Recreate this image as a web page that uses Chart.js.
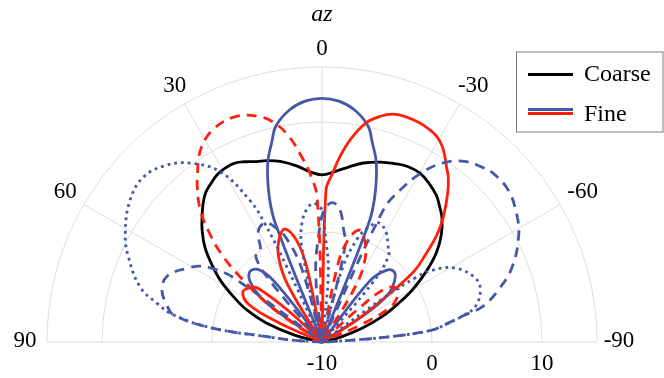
<!DOCTYPE html>
<html>
<head>
<meta charset="utf-8">
<script src="https://cdn.jsdelivr.net/npm/chart.js@4"></script>
<style>
  html, body { margin: 0; padding: 0; background: #fff; }
  #wrap { width: 664px; height: 378px; }
</style>
</head>
<body>
<div id="wrap"><canvas id="polar" width="664" height="378"></canvas></div>
<script>
// radial axis (dB): centre is -10, outer ring is 15
const rMin = -10;
const rMax = 15;
const ringValues = [0, 10, 15];
const radialTicks = [-10, 0, 10];
const angleTicks = [90, 60, 30, 0, -30, -60, -90];

// azimuth in degrees (left positive), value in dB
const coarseAngles = [90, 84, 80, 76, 71, 67, 63, 59, 55, 51, 47, 44, 41, 38, 35, 32, 29, 26, 23, 20,
  17, 13, 8, 4, 0, -4, -9, -13, -18, -22, -26, -30, -34, -38, -41, -44, -48, -52, -56, -60,
  -63, -67, -71, -75, -79, -84, -90];
const coarseValues = [-10, -10, -9.8, -7.5, -4.6, -2.6, -1.0, 0.7, 2.2, 3.7, 4.9, 5.7, 6.5, 7.2, 7.6, 7.95, 8.1, 8.1, 7.8, 7.45,
  7.25, 6.85, 6.15, 5.5, 5.2, 5.5, 6.15, 6.7, 7.2, 7.5, 7.75, 7.75, 7.4, 6.9, 6.3, 5.7, 4.6, 3.2, 1.4, -0.5,
  -2.1, -4.0, -6.1, -8.2, -9.8, -10, -10];

const blueSolidAngles = [90, 58, 55, 51, 46, 41, 38, 35, 23, 21.5, 20, 17, 14, 12, 8, 4, 0, -4, -8, -12,
  -14, -17, -20, -21.5, -23, -35, -38, -42, -46, -50, -54, -57, -59, -90];
const blueSolidValues = [-10, -10, -4, -1.8, -0.85, -1.3, -3.5, -10, -10, 1.5, 4.0, 6.9, 8.8, 10.1, 11.3, 11.95, 12.15, 11.95, 11.3, 10.1,
  8.8, 6.9, 4.0, 1.5, -10, -10, -3, -1.2, -0.85, -1.4, -2.5, -5, -10, -10];

const redSolidAngles = [90, 70, 66, 63, 58, 53, 50, 47, 45, 34, 31, 27, 22, 18, 14, 11.5, 9.5, 1, -1.5, -3.5,
  -5.5, -8, -11.3, -14.5, -17.4, -20.5, -24.1, -26.7, -29.2, -31.5, -33.6, -35.5, -37.4, -40, -44, -47, -50, -52.5, -55, -58,
  -61, -90];
const redSolidValues = [-10, -10, -5.8, -2.6, -1.5, -1.8, -2.4, -6, -10, -10, -4, -1.3, 0.3, 0.8, -0.5, -3, -10, -10, 3.8, 5.3,
  6.9, 8.6, 10.3, 11.2, 11.7, 11.85, 11.8, 11.65, 11.4, 10.9, 10.2, 9.5, 8.9, 7.8, 5.9, 4.3, 2.2, 0.5, -3.3, -6.8,
  -10, -10];

const redDashAngles = [90, 60, 57, 55, 51.5, 49, 46, 42.7, 38.8, 36.3, 34.2, 31.7, 29.3, 26.7, 24.1, 21.2, 18.4, 15.8, 13.2, 9.6,
  6.2, 4.1, 1.9, -0.5, -9.5, -11.5, -14, -18, -22, -27, -31, -34, -45, -47.5, -50, -55, -59, -63, -66, -69,
  -90];
const redDashValues = [-10, -10, -6.9, -3.9, -0.5, 2.0, 4.2, 6.3, 8.1, 9.1, 10.0, 10.85, 11.4, 11.75, 11.95, 11.95, 11.74, 11.3, 10.7, 9.2,
  6.9, 5.37, 3.07, -10, -10, -3, -0.6, 0.7, 0.2, -1.3, -4, -10, -10, -5.8, -2.4, -1.6, -2.0, -3.0, -6, -10,
  -10];

const blueDashAngles = [90, 89, 86.5, 84.5, 82.8, 79.7, 76.6, 72, 67, 61.4, 58, 56, 54, 53, 42.5, 40.5, 37.9, 34, 30, 25.5,
  22, 19, 15.5, 12, 7, 5.2, 1.6, -0.9, -4.3, -7.8, -10.5, -13.6, -14.5, -23.8, -24.9, -27.2, -30.7, -34.7, -38.7, -42.5,
  -45.4, -50.8, -56.5, -61.5, -68.4, -73.6, -77.6, -79.5, -81.5, -83.8, -85.3, -86.2, -88, -90];
const blueDashValues = [-10, -10, -7.5, -5, 0, 3.7, 4.5, 5.3, 5.3, 4.0, 3.0, 1.9, 0, -10, -10, -3, -0.2, 0.0, 1.6, 2.0,
  1.2, 0, -3, -10, -10, -3.7, -0.1, 2.0, 2.7, 2.1, 0.6, -1.1, -10, -10, 3.2, 5.5, 8.0, 9.9, 11.0, 11.55,
  11.85, 11.85, 11.2, 10.35, 8.6, 6.7, 4.9, 3.0, 1.6, 0.06, -3, -6, -9.5, -10];

const blueDotAngles = [90, 89, 86.5, 84.5, 82.8, 79.7, 76.8, 73.1, 66, 61, 53.5, 47.2, 41.3, 36.4, 30.9, 27, 25.8, 25.1, 24.3, 13,
  12.4, 9.7, 4.3, 0, -1.6, -5.2, -7, -12, -15.5, -19, -22, -25.5, -30, -34, -37.9, -40.5, -42.5, -53, -54.5, -55.5,
  -57, -61, -67.4, -71.8, -77, -79.5, -81.5, -83.8, -85.3, -86.2, -88, -90];
const blueDotValues = [-10, -10, -7.5, -5, 0, 3.7, 5.4, 7.3, 9.3, 10.45, 11.7, 12.1, 11.4, 10.2, 8.05, 4.45, 2.1, -2.45, -10, -10,
  -2.1, 0.9, 2.6, 2.0, -0.1, -3.7, -10, -10, -3, 0, 1.2, 2.0, 1.6, 0.7, -0.2, -3, -10, -10, -3, 0.3,
  2.0, 3.85, 5.1, 5.15, 4.3, 3.0, 1.6, 0.06, -3, -6, -9.5, -10];

const BLUE = '#4659a9';
const RED = '#ff200c';
const FONT = '"Liberation Serif", "DejaVu Serif", serif';

// polar (deg, dB) -> cartesian in dB-above-centre units
function toXY(angles, values) {
  return angles.map((a, i) => {
    const r = Math.max(values[i], rMin) - rMin;
    const t = a * Math.PI / 180;
    return { x: -r * Math.sin(t), y: r * Math.cos(t) };
  });
}

function line(label, angles, values, color, dash, order) {
  return {
    label: label,
    data: toXY(angles, values),
    borderColor: color,
    borderWidth: 2.8,
    borderDash: dash,
    borderCapStyle: 'butt',
    borderJoinStyle: 'round',
    showLine: true,
    pointRadius: 0,
    tension: 0.4,
    clip: false,
    order: order
  };
}

const polarFrame = {
  id: 'polarFrame',
  beforeDatasetsDraw(chart) {
    const ctx = chart.ctx, xs = chart.scales.x, ys = chart.scales.y;
    const cx = xs.getPixelForValue(0), cy = ys.getPixelForValue(0);
    const unit = xs.getPixelForValue(1) - cx;
    const outer = (rMax - rMin) * unit;
    ctx.save();
    ctx.strokeStyle = '#d4d4d4';
    ctx.lineWidth = 0.8;
    ringValues.forEach(v => {
      ctx.beginPath();
      ctx.arc(cx, cy, (v - rMin) * unit, Math.PI, 2 * Math.PI);
      ctx.stroke();
    });
    angleTicks.forEach(a => {
      const t = a * Math.PI / 180;
      ctx.beginPath();
      ctx.moveTo(cx, cy);
      ctx.lineTo(cx - outer * Math.sin(t), cy - outer * Math.cos(t));
      ctx.stroke();
    });
    ctx.restore();
  },
  afterDraw(chart) {
    const ctx = chart.ctx, xs = chart.scales.x, ys = chart.scales.y;
    const cx = xs.getPixelForValue(0), cy = ys.getPixelForValue(0);
    const unit = xs.getPixelForValue(1) - cx;
    const outer = (rMax - rMin) * unit;
    ctx.save();
    ctx.fillStyle = '#000';
    ctx.font = '23px ' + FONT;
    ctx.textAlign = 'center';
    ctx.textBaseline = 'middle';
    // azimuth labels
    angleTicks.forEach(a => {
      const t = a * Math.PI / 180;
      const r = outer + 17 + 5 * Math.abs(Math.sin(t));
      let x = cx - r * Math.sin(t);
      if (a < 0 && a > -90) x += 4;  // minus sign sits outside the anchor
      ctx.fillText(String(a), x, cy - r * Math.cos(t) - 1.5);
    });
    // radial labels along the right baseline
    radialTicks.forEach(v => {
      ctx.fillText(String(v), cx + (v - rMin) * unit, cy + 22);
    });
    // title
    ctx.font = 'italic 24px ' + FONT;
    ctx.textBaseline = 'alphabetic';
    ctx.fillText('az', cx, 21);

    // legend
    const lx = 516, ly = 51.5, lw = 146.5, lh = 80;
    ctx.fillStyle = '#fff';
    ctx.fillRect(lx, ly, lw, lh);
    ctx.strokeStyle = '#7a7a7a';
    ctx.lineWidth = 1;
    ctx.strokeRect(lx + 0.5, ly + 0.5, lw, lh);
    ctx.lineWidth = 2.8;
    const sample = (y, color) => {
      ctx.strokeStyle = color;
      ctx.beginPath();
      ctx.moveTo(528, y);
      ctx.lineTo(573, y);
      ctx.stroke();
    };
    sample(74.5, '#000');
    sample(109.5, BLUE);
    sample(113.5, RED);
    ctx.fillStyle = '#000';
    ctx.font = '24px ' + FONT;
    ctx.textAlign = 'left';
    ctx.fillText('Coarse', 584, 81);
    ctx.fillText('Fine', 584, 120.5);
    ctx.restore();
  }
};

new Chart(document.getElementById('polar'), {
  type: 'scatter',
  data: {
    datasets: [
      line('Coarse', coarseAngles, coarseValues, '#000', [], 6),
      line('Fine', blueSolidAngles, blueSolidValues, BLUE, [], 5),
      line('Fine', redSolidAngles, redSolidValues, RED, [], 4),
      line('Fine', blueDashAngles, blueDashValues, BLUE, [10, 7], 3),
      line('Fine', redDashAngles, redDashValues, RED, [10, 7], 2),
      line('Fine', blueDotAngles, blueDotValues, BLUE, [2.8, 4], 1)
    ]
  },
  options: {
    responsive: false,
    animation: false,
    layout: { padding: { left: 47, right: 67, top: 67, bottom: 36 } },
    scales: {
      x: { type: 'linear', min: -(rMax - rMin), max: rMax - rMin, display: false },
      y: { type: 'linear', min: 0, max: rMax - rMin, display: false }
    },
    plugins: {
      legend: { display: false },
      tooltip: { enabled: false }
    }
  },
  plugins: [polarFrame]
});
</script>
</body>
</html>
